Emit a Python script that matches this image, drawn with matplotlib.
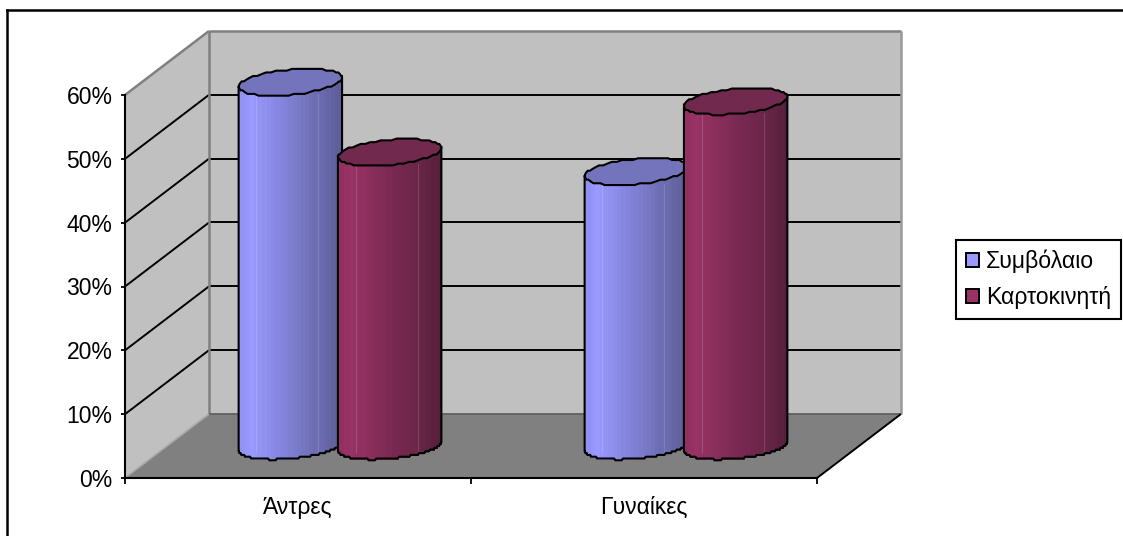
import numpy as np
import matplotlib
matplotlib.use("Agg")
import matplotlib.pyplot as plt
from matplotlib.colors import LinearSegmentedColormap
from matplotlib.lines import Line2D
from matplotlib.patches import Patch, Polygon
from matplotlib.ticker import PercentFormatter

plt.rcParams["font.family"] = ["Liberation Sans", "DejaVu Sans"]

categories = ["Άντρες", "Γυναίκες"]
series_names = ["Συμβόλαιο", "Καρτοκινητή"]
contract = [0.57, 0.43]
prepaid = [0.46, 0.54]
y_ticks = [0.0, 0.1, 0.2, 0.3, 0.4, 0.5, 0.6]

W, H = 1123, 536
FRONT_L, FRONT_R, FRONT_B, FRONT_T = 125, 817, 478, 95
DEPTH_PX = (84, 64)
WALL, FLOOR, EDGE = "#C0C0C0", "#808080", "#808080"

fig = plt.figure(figsize=(W / 100, H / 100), dpi=100, facecolor="white")
ax = fig.add_axes([FRONT_L / W, 1 - FRONT_B / H, (FRONT_R - FRONT_L) / W, (FRONT_B - FRONT_T) / H])
ax.set_xlim(0, 2)
ax.set_ylim(0, 0.6)
ax.patch.set_visible(False)

DX = DEPTH_PX[0] / ((FRONT_R - FRONT_L) / 2)
DY = DEPTH_PX[1] / ((FRONT_B - FRONT_T) / 0.6)


def proj(x, v, d):
    """Oblique projection: a point at depth d (0 front, 1 back) in data units."""
    return x + d * DX, v + d * DY


def face(points, color, z):
    ax.add_patch(Polygon([proj(*p) for p in points], closed=True, facecolor=color,
                         edgecolor="none", zorder=z, clip_on=False))


def seg(p, q, color, lw, z):
    a, b = proj(*p), proj(*q)
    ax.plot([a[0], b[0]], [a[1], b[1]], color=color, lw=lw, zorder=z, clip_on=False,
            solid_capstyle="butt")


# Walls and floor of the 3D box
face([(0, 0, 1), (2, 0, 1), (2, 0.6, 1), (0, 0.6, 1)], WALL, 1)
face([(0, 0, 0), (0, 0, 1), (0, 0.6, 1), (0, 0.6, 0)], WALL, 1)
face([(0, 0, 0), (2, 0, 0), (2, 0, 1), (0, 0, 1)], FLOOR, 1)

for v in y_ticks[1:-1]:
    seg((0, v, 0), (0, v, 1), "black", 1.4, 2)
    seg((0, v, 1), (2, v, 1), "black", 1.4, 2)

seg((0, 0.6, 0), (0, 0.6, 1), EDGE, 1.8, 2)
seg((0, 0.6, 1), (2, 0.6, 1), EDGE, 1.8, 2)
seg((0, 0, 1), (0, 0.6, 1), EDGE, 1.8, 2)
seg((2, 0, 1), (2, 0.6, 1), "#999999", 1.8, 2)
seg((0, 0, 0), (0, 0, 1), "#A8A8A8", 1.2, 2)
seg((0, 0, 1), (2, 0, 1), "#606060", 1.3, 2)
seg((2, 0, 0), (2, 0, 1), "black", 1.4, 2)

# Cylinders
CYL_A = 0.1405       # half width along x
CYL_F = 0.21         # radius along depth
CYL_OFF = 0.1435     # shift of each series from the category centre
SHEAR = CYL_F * DX
T_R = np.arctan2(SHEAR, CYL_A)
T_L = T_R + np.pi

blue_map = LinearSegmentedColormap.from_list(
    "blue", [(0, "#8E8EEE"), (0.12, "#9999FF"), (0.45, "#8282D8"), (0.8, "#6A6AAE"), (1, "#5C5C98")])
red_map = LinearSegmentedColormap.from_list(
    "red", [(0, "#8E2F5E"), (0.12, "#993366"), (0.45, "#7F2B55"), (0.8, "#682546"), (1, "#561F3B")])


def ellipse_xy(cx, v, t):
    """Rim of a cylinder at height v; the rim is kept as a coarse outline."""
    x = cx + CYL_A * np.cos(t) + SHEAR * np.sin(t)
    y = v + CYL_F * DY * np.sin(t)
    return x + 0.5 * DX, np.round(y / 0.0028) * 0.0028 + 0.5 * DY


def cylinder(cx, value, cmap, top_color, z):
    ts = np.linspace(T_L, T_R + 2 * np.pi, 121)
    xt, yt = ellipse_xy(cx, value, ts)
    xb, yb = ellipse_xy(cx, 0, ts)
    xmin, xmax = xt.min(), xt.max()
    for i in range(len(ts) - 1):
        frac = (0.5 * (xt[i] + xt[i + 1]) - xmin) / (xmax - xmin)
        col = cmap(np.round(frac * 24) / 24)
        ax.add_patch(Polygon([(xt[i], yt[i]), (xt[i + 1], yt[i + 1]), (xb[i + 1], yb[i + 1]), (xb[i], yb[i])],
                             facecolor=col, edgecolor=col, lw=0.5, antialiased=False,
                             zorder=z, clip_on=False))
    # pale highlights running along the shaft
    for frac in (0.17, 0.77):
        xl = xmin + frac * (xmax - xmin)
        ax.plot([xl, xl], [0.5 * DY - 0.01, value + 0.5 * DY - CYL_F * DY * 0.9],
                color="white", alpha=0.14, lw=0.8, zorder=z + 0.1, clip_on=False)
    ol = np.column_stack([np.r_[xt[0], xb, xt[-1]], np.r_[yt[0], yb, yt[-1]]])
    ax.plot(ol[:, 0], ol[:, 1], color="black", lw=1.5, zorder=z + 0.2, clip_on=False)
    tt = np.linspace(0, 2 * np.pi, 61)
    xe, ye = ellipse_xy(cx, value, tt)
    ax.add_patch(Polygon(np.column_stack([xe, ye]), closed=True, facecolor=top_color,
                         edgecolor="black", lw=1.5, zorder=z + 0.3, clip_on=False))


z = 3
for i in range(len(categories)):
    centre = i + 0.5
    cylinder(centre - CYL_OFF, contract[i], blue_map, "#7474BC", z)
    z += 1
    cylinder(centre + CYL_OFF, prepaid[i], red_map, "#72294E", z)
    z += 1

# Axes, ticks and tick labels
for side in ("top", "right"):
    ax.spines[side].set_visible(False)
for side in ("left", "bottom"):
    ax.spines[side].set_linewidth(1.5)
    ax.spines[side].set_zorder(20)
ax.set_yticks(y_ticks)
ax.yaxis.set_major_formatter(PercentFormatter(1.0, decimals=0))
ax.tick_params(axis="y", length=3, width=1.3, pad=6, labelsize=16.5)
ax.set_xticks([0, 1, 2])
ax.set_xticklabels([])
ax.set_xticks([0.5, 1.5], minor=True)
ax.set_xticklabels(categories, minor=True, fontsize=16.5)
ax.tick_params(axis="x", which="major", length=4, width=1.3)
ax.tick_params(axis="x", which="minor", length=0, pad=13)

# Legend
handles = [Patch(facecolor="#9999FF", edgecolor="black", lw=1.4, label=series_names[0]),
           Patch(facecolor="#993366", edgecolor="black", lw=1.4, label=series_names[1])]
leg = fig.legend(handles=handles, loc="upper left", bbox_to_anchor=(956 / W, 1 - 240 / H),
                 frameon=True, fancybox=False, edgecolor="black", framealpha=1, fontsize=16.6,
                 borderaxespad=0, borderpad=0.42, handlelength=0.58, handleheight=0.58,
                 handletextpad=0.3, labelspacing=0.55)
leg.get_frame().set_linewidth(1.5)

# Outer chart frame
fig.add_artist(Line2D([7 / W, 1], [1 - 10 / H, 1 - 10 / H], color="black", lw=1.8))
fig.add_artist(Line2D([7 / W, 7 / W], [0, 1 - 10 / H], color="black", lw=1.8))

fig.savefig("out.png", dpi=100)
